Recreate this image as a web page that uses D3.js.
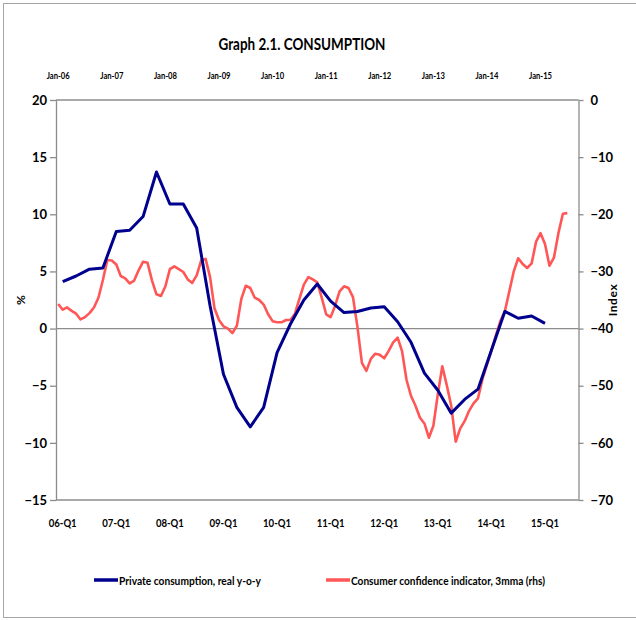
<!DOCTYPE html>
<html>
<head>
<meta charset="utf-8">
<title>Graph 2.1. CONSUMPTION</title>
<script src="https://d3js.org/d3.v7.min.js"></script>
<style>
  body { margin: 0; background: #fff; }
  text { font-family: Lato, "Liberation Sans", sans-serif; font-weight: bold; fill: #000; }
</style>
</head>
<body>
<div id="chart"></div>
<script>
// monthly categories Jan-06 .. Sep-15 (the axis runs a bit past the data)
const months = d3.timeMonth.range(new Date(2006, 0, 1), new Date(2015, 9, 1)).map(d3.timeFormat("%b-%y"));
const topTicks = ["Jan-06", "Jan-07", "Jan-08", "Jan-09", "Jan-10", "Jan-11", "Jan-12", "Jan-13", "Jan-14", "Jan-15"];
const bottomTicks = ["06-Q1", "07-Q1", "08-Q1", "09-Q1", "10-Q1", "11-Q1", "12-Q1", "13-Q1", "14-Q1", "15-Q1"];

// quarters 06-Q1 .. 15-Q1, private consumption real y-o-y (%)
const quarters = [];
for (let y = 6; y <= 15; y++) for (let q = 1; q <= 4; q++) quarters.push(String(y).padStart(2, "0") + "-Q" + q);
quarters.length = 37;
const consumption = [4.1, 4.6, 5.2, 5.3, 8.5, 8.6, 9.8, 13.7, 10.9, 10.9, 8.8, 2.0, -4.0, -6.9, -8.6, -6.9,
  -2.1, 0.4, 2.5, 3.9, 2.4, 1.4, 1.5, 1.8, 1.9, 0.6, -1.2, -3.9, -5.4, -7.4, -6.2, -5.3,
  -1.9, 1.5, 0.9, 1.1, 0.45];

// consumer confidence indicator, 3mma (rhs), Jan-06 .. Jul-15
const confidence = [-35.7, -36.7, -36.3, -36.9, -37.4, -38.4, -38.0, -37.3, -36.3, -34.6, -31.5, -28.0,
  -28.1, -28.8, -30.8, -31.2, -32.1, -31.6, -29.8, -28.3, -28.5, -31.6, -34.0, -34.3,
  -32.6, -29.6, -29.1, -29.6, -30.1, -31.4, -32.0, -30.7, -28.1, -27.8, -31.0, -36.5,
  -38.5, -39.6, -40.0, -40.8, -39.5, -34.8, -32.5, -32.9, -34.6, -35.0, -35.8, -37.5,
  -38.7, -38.9, -38.9, -38.5, -38.5, -37.4, -34.8, -32.3, -31.0, -31.4, -31.9, -34.6,
  -37.5, -38.0, -36.0, -33.5, -32.6, -32.9, -34.5, -39.7, -46.0, -47.4, -45.3, -44.4,
  -44.6, -45.2, -43.9, -42.4, -41.6, -44.0, -49.0, -51.8, -53.5, -55.6, -56.6, -59.1,
  -57.0, -51.5, -46.6, -49.9, -53.5, -59.8, -57.5, -56.2, -54.4, -53.1, -52.2, -48.8,
  -46.3, -43.8, -41.2, -38.7, -37.0, -33.5, -30.0, -27.7, -28.7, -29.4, -28.6, -24.8,
  -23.3, -25.2, -29.0, -27.6, -23.3, -19.9, -19.8];

const W = 636, H = 620;
const plotLeft = 56, plotRight = 578.5, plotTop = 100, plotBottom = 500;
const blue = "#00008e", red = "#ff5656", grey = "#8c8c8c";

const svg = d3.select("#chart").append("svg")
  .attr("width", W).attr("height", H);

// chart border (left, top, bottom visible)
svg.append("rect")
  .attr("x", 3.5).attr("y", 3.5).attr("width", 660).attr("height", 614)
  .attr("fill", "none").attr("stroke", "#a6a6a6");

const x = d3.scaleBand().domain(months).range([plotLeft, plotRight]);
const xm = i => x(months[i]) + x.bandwidth() / 2;   // month index -> centre
const xq = i => xm(3 * i + 1);                      // quarter -> its middle month

const yL = d3.scaleLinear().domain([-15, 20]).range([plotBottom, plotTop]);
const yR = d3.scaleLinear().domain([-70, 0]).range([plotBottom, plotTop]);

// title
svg.append("text")
  .attr("x", 302).attr("y", 50)
  .attr("text-anchor", "middle")
  .attr("textLength", 167).attr("lengthAdjust", "spacingAndGlyphs")
  .style("font-size", "17px")
  .text("Graph 2.1. CONSUMPTION");

// top month labels
svg.append("g").selectAll("text").data(topTicks).join("text")
  .attr("x", d => xm(months.indexOf(d)))
  .attr("y", 79)
  .attr("text-anchor", "middle")
  .attr("textLength", 23).attr("lengthAdjust", "spacingAndGlyphs")
  .style("font-size", "9px")
  .text(d => d);

// bottom quarter labels
svg.append("g").selectAll("text").data(bottomTicks).join("text")
  .attr("x", d => xq(quarters.indexOf(d)))
  .attr("y", 527)
  .attr("text-anchor", "middle")
  .attr("textLength", 28).attr("lengthAdjust", "spacingAndGlyphs")
  .style("font-size", "12px")
  .text(d => d);

// left and right axes
const gl = svg.append("g")
  .attr("transform", `translate(${plotLeft},0)`)
  .call(d3.axisLeft(yL).tickValues(d3.range(-15, 21, 5)).tickSize(6).tickPadding(3).tickSizeOuter(0));
const gr = svg.append("g")
  .attr("transform", `translate(${plotRight},0)`)
  .call(d3.axisRight(yR).tickValues(d3.range(-70, 1, 10)).tickSize(5).tickPadding(7).tickSizeOuter(0));
[gl, gr].forEach(g => {
  g.attr("font-family", null).attr("font-size", null);
  g.selectAll("path, line").attr("stroke", grey).attr("stroke-width", 1.3);
  g.selectAll("text").style("font-size", "13px").attr("fill", "#000");
});

// top and bottom frame lines
svg.append("line").attr("x1", plotLeft).attr("x2", plotRight).attr("y1", plotTop).attr("y2", plotTop)
  .attr("stroke", grey).attr("stroke-width", 1.3);
svg.append("line").attr("x1", plotLeft).attr("x2", plotRight).attr("y1", plotBottom).attr("y2", plotBottom)
  .attr("stroke", grey).attr("stroke-width", 1.3);

// zero line
svg.append("line").attr("x1", plotLeft).attr("x2", plotRight).attr("y1", yL(0)).attr("y2", yL(0))
  .attr("stroke", grey).attr("stroke-width", 1.2);

// axis titles
svg.append("text")
  .attr("transform", `translate(25,${yL(2.5)}) rotate(-90)`)
  .attr("text-anchor", "middle")
  .style("font-size", "12px")
  .text("%");
svg.append("text")
  .attr("transform", `translate(617,${yR(-35)}) rotate(-90)`)
  .attr("text-anchor", "middle")
  .style("font-size", "12px")
  .style("letter-spacing", "0.6px")
  .text("Index");

// series
svg.append("path")
  .datum(confidence)
  .attr("fill", "none").attr("stroke", red).attr("stroke-width", 2.6)
  .attr("stroke-linejoin", "round")
  .attr("d", d3.line().x((d, i) => xm(i)).y(d => yR(d)));

svg.append("path")
  .datum(consumption)
  .attr("fill", "none").attr("stroke", blue).attr("stroke-width", 3)
  .attr("stroke-linejoin", "round")
  .attr("d", d3.line().x((d, i) => xq(i)).y(d => yL(d)));

// legend
const legend = [
  { label: "Private consumption, real y-o-y", color: blue, x: 94, w: 142 },
  { label: "Consumer confidence indicator, 3mma (rhs)", color: red, x: 326, w: 194 }
];
const lg = svg.append("g").selectAll("g").data(legend).join("g")
  .attr("transform", d => `translate(${d.x},580)`);
lg.append("line").attr("x1", 0).attr("x2", 24).attr("y1", 0).attr("y2", 0)
  .attr("stroke", d => d.color).attr("stroke-width", 3.5);
lg.append("text").attr("x", 25).attr("y", 4.5)
  .attr("textLength", d => d.w).attr("lengthAdjust", "spacingAndGlyphs")
  .style("font-size", "12px")
  .text(d => d.label);
</script>
</body>
</html>
